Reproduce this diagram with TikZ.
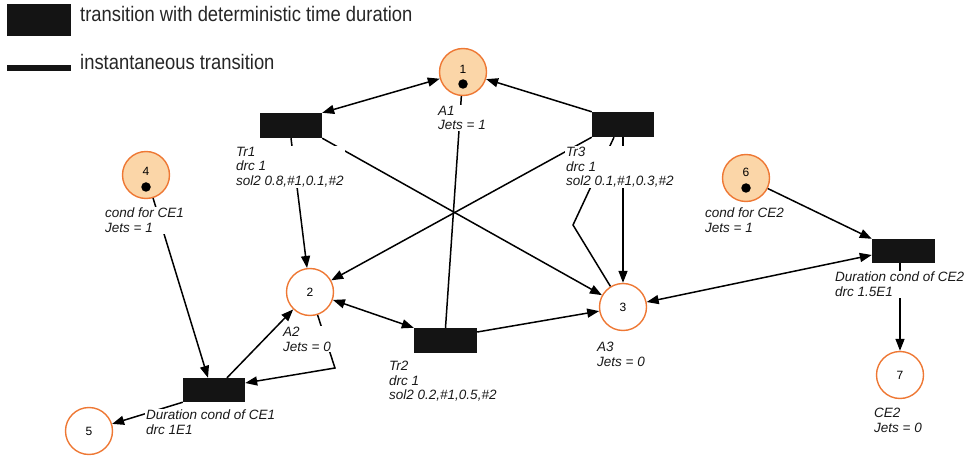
\documentclass[tikz,border=0pt]{standalone}
\usepackage{fontspec}
\setmainfont{Liberation Sans}
\usetikzlibrary{arrows.meta,calc}
\definecolor{porange}{RGB}{238,120,52}
\definecolor{ppeach}{RGB}{251,214,168}
\begin{document}
\begin{tikzpicture}[x=1pt,y=-1pt,
  pnplace/.style={circle,draw=porange,line width=1.4pt,minimum size=47pt,inner sep=0pt},
  pnmarked/.style={pnplace,fill=ppeach},
  pntrans/.style={rectangle,fill=black!92,draw=none,inner sep=0pt},
  pnnum/.style={inner sep=0pt,font=\fontsize{12}{12}\selectfont},
  pndot/.style={circle,fill=black,minimum size=9.5pt,inner sep=0pt},
  lbl/.style={anchor=north west,align=left,inner sep=1pt,fill=white,text=black!90,font=\fontsize{13.5}{14.5}\selectfont\itshape},
  legtext/.style={anchor=west,inner sep=0pt,font=\fontsize{21}{24}\selectfont,text=black!85},
  pnline/.style={line width=1.5pt},
  pnarrow/.style={line width=1.5pt,-{Triangle[length=12pt,width=9pt]}},
  pnboth/.style={line width=1.5pt,{Triangle[length=12pt,width=9pt]}-{Triangle[length=12pt,width=9pt]}}]
\useasboundingbox (0,0) rectangle (972,457);
% legend
\node[pntrans,minimum width=64pt,minimum height=32pt] (lgbox) at (39,20) {};
\node[pntrans,minimum width=64pt,minimum height=6pt] (lgbar) at (39,68) {};
\node[legtext] (lgt1) at (80,14) {\scalebox{0.876}[1]{transition with deterministic time duration}};
\node[legtext] (lgt2) at (80,62) {\scalebox{0.876}[1]{instantaneous transition}};
% places
\node[pnmarked] (p1) at (463,72) {};
\node[pnnum] (n1) at ([yshift=3pt]p1.center) {1};
\node[pndot] (d1) at ([yshift=-12pt]p1.center) {};
\node[pnmarked] (p4) at (146,175) {};
\node[pnnum] (n4) at ([yshift=4pt]p4.center) {4};
\node[pndot] (d4) at ([yshift=-12pt]p4.center) {};
\node[pnmarked] (p6) at (746,178) {};
\node[pnnum] (n6) at ([yshift=6pt]p6.center) {6};
\node[pndot] (d6) at ([yshift=-10pt]p6.center) {};
\node[pnplace] (p2) at (310,292) {};
\node[pnnum] (n2) at (p2.center) {2};
\node[pnplace] (p3) at (623,307) {};
\node[pnnum] (n3) at (p3.center) {3};
\node[pnplace] (p5) at (89,431) {};
\node[pnnum] (n5) at (p5.center) {5};
\node[pnplace] (p7) at (900,375) {};
\node[pnnum] (n7) at (p7.center) {7};
% transitions
\node[pntrans,minimum width=62pt,minimum height=25pt] (t1) at (291,125.5) {};
\node[pntrans,minimum width=62pt,minimum height=25pt] (t3) at (623,124.5) {};
\node[pntrans,minimum width=63pt,minimum height=25pt] (t2) at (445.5,340.5) {};
\node[pntrans,minimum width=62pt,minimum height=24pt] (tce1) at (214,390) {};
\node[pntrans,minimum width=63pt,minimum height=24pt] (tce2) at (903.5,251) {};
% connectors
\draw[pnboth] (t1.north east) -- (p1);
\draw[pnarrow] (t3.north west) -- (p1);
\draw[pnline] (t2.north) -- (p1);
\draw[pnarrow] (t1.south east) -- (p3);
\draw[pnarrow] (t3.south west) -- (p2);
\draw[pnarrow] (t1.south) -- (p2);
\draw[pnarrow] (t3.south) -- (p3);
\coordinate (b3) at (573,225);
\draw[pnline] (p3) -- (b3) -- ([xshift=-9pt]t3.south);
\draw[pnboth] (p2) -- (t2.north west);
\draw[pnarrow] (t2.15) -- (p3);
\draw[pnarrow] (p4) -- ([xshift=-6pt]tce1.north);
\draw[pnarrow] ([xshift=13pt]tce1.north) -- (p2);
\coordinate (b2) at (335,368);
\draw[pnarrow] (p2) -- (b2) -- ([yshift=7pt]tce1.east);
\draw[pnarrow] (tce1.south west) -- (p5);
\draw[pnarrow] (p6) -- (tce2.north west);
\draw[pnboth] (p3) -- ([yshift=-4pt]tce2.west);
\draw[pnarrow] ([xshift=-3.5pt]tce2.south) -- (p7);
% labels
\node[lbl] (la1) at (437,105) {A1\\Jets = 1};
\node[lbl] (ltr1) at (235,146) {Tr1\\drc 1\\sol2 0.8,\#1,0.1,\#2};
\node[lbl] (ltr3) at (565,146) {Tr3\\drc 1\\sol2 0.1,\#1,0.3,\#2};
\node[lbl] (lc1) at (104,207) {cond for CE1\\Jets = 1};
\node[lbl] (lc2) at (704,207) {cond for CE2\\Jets = 1};
\node[lbl] (la2) at (282,326) {A2\\Jets = 0};
\node[lbl] (ltr2) at (388,360) {Tr2\\drc 1\\sol2 0.2,\#1,0.5,\#2};
\node[lbl] (la3) at (596,341) {A3\\Jets = 0};
\node[lbl] (ld2) at (834,271) {Duration cond of CE2\\drc 1.5E1};
\node[lbl] (ld1) at (145,409) {Duration cond of CE1\\drc 1E1};
\node[lbl] (lce2) at (873,407) {CE2\\Jets = 0};
\end{tikzpicture}
\end{document}
